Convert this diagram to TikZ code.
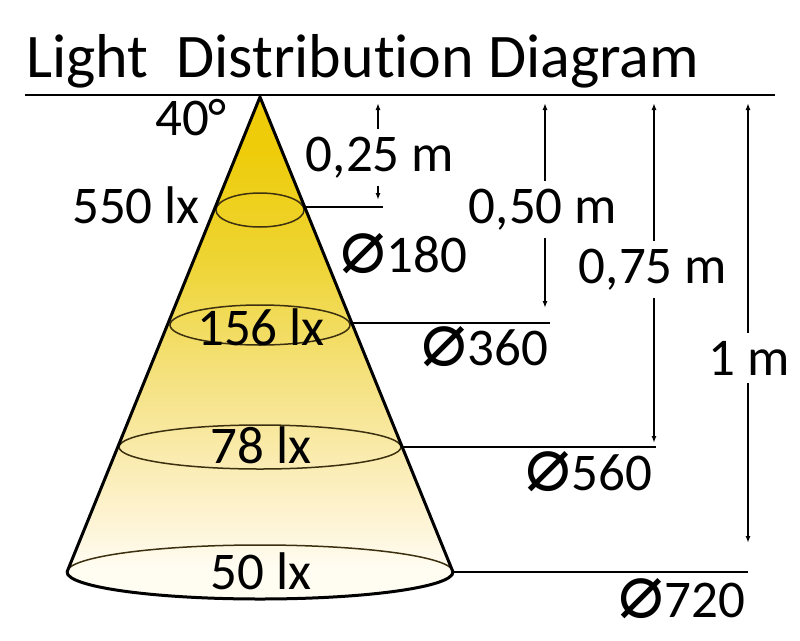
\documentclass[tikz,border=0pt]{standalone}
\usepackage{fontspec}
\setmainfont[Ligatures=CommonOff]{Carlito}
\newfontfamily\symfont{DejaVu Sans}
\usepackage{tikz}
\usetikzlibrary{arrows.meta}
\tikzset{>={Latex[length=7pt,width=5pt]}}
\usepackage{xcolor}
\definecolor{conetop}{RGB}{238,204,10}
\definecolor{conehi}{RGB}{238,212,50}
\definecolor{conemid}{RGB}{246,228,140}
\definecolor{conelo}{RGB}{253,242,205}
\definecolor{conebot}{RGB}{255,252,242}
\definecolor{ringcol}{RGB}{60,48,16}
\pgfdeclareverticalshading{conefade}{100bp}{color(0bp)=(conebot); color(28bp)=(conebot); color(34bp)=(conelo); color(45bp)=(conemid); color(59bp)=(conehi); color(70bp)=(conetop); color(100bp)=(conetop)}
\tikzstyle{lbl}=[font=\fontsize{53}{58}\selectfont,inner sep=0pt,anchor=base]
\tikzstyle{dimlbl}=[lbl,fill=white,inner xsep=2pt,inner ysep=8pt]
\tikzstyle{ring}=[draw=ringcol,line width=1.5pt]
\tikzstyle{leader}=[line width=1.5pt]
\tikzstyle{dimline}=[<->,line width=1.5pt]
\newcommand{\dia}{{\symfont\fontsize{76}{80}\selectfont ⌀}}

\begin{document}
\begin{tikzpicture}[x=1pt,y=-1pt]
    \useasboundingbox (0,0) rectangle (800,640);

    \node[anchor=base west,inner sep=0pt,font=\fontsize{62}{66}\selectfont] (title) at (26,77) {Light\ \ Distribution Diagram};
    \draw[line width=2pt] (25,95) coordinate (hl) -- (775,95) coordinate (hr);

    \coordinate (apex) at (260,97);
    \coordinate (bl) at (67,572);
    \coordinate (br) at (453,572);

    % cone
    \shade[shading=conefade] (apex) -- (bl) arc[start angle=180,end angle=0,x radius=193,y radius=27] -- cycle;
    \draw[ring] (260,210) ellipse[x radius=44,y radius=17];
    \draw[ring] (260,325) ellipse[x radius=90,y radius=20];
    \draw[ring] (260,447) ellipse[x radius=141,y radius=22];
    \draw[ring] (bl) arc[start angle=180,end angle=360,x radius=193,y radius=27];
    \draw[line width=3pt] (bl) arc[start angle=180,end angle=0,x radius=193,y radius=27];
    \draw[line width=3pt,line join=round] (bl) -- (apex) -- (br);

    % leaders
    \coordinate (r1) at (304,207);
    \coordinate (r2) at (350,323);
    \coordinate (r3) at (401,447);
    \coordinate (l1) at (383,207);
    \coordinate (l2) at (550,323);
    \coordinate (l3) at (656,447);
    \coordinate (l4) at (748,572);
    \draw[leader] (r1) -- (l1);
    \draw[leader] (r2) -- (l2);
    \draw[leader] (r3) -- (l3);
    \draw[leader] (br) -- (l4);

    % dimension arrows
    \coordinate (t1) at (378,103);
    \coordinate (b1) at (378,200);
    \coordinate (t2) at (545,103);
    \coordinate (b2) at (545,308);
    \coordinate (t3) at (654,103);
    \coordinate (b3) at (654,443);
    \coordinate (t4) at (748,103);
    \coordinate (b4) at (748,543);
    \draw[dimline] (t1) -- (b1);
    \draw[dimline] (t2) -- (b2);
    \draw[dimline] (t3) -- (b3);
    \draw[dimline] (t4) -- (b4);

    \node[dimlbl] (h1) at (380,171) {0,25 m};
    \node[dimlbl] (h2) at (543,223) {0,50 m};
    \node[dimlbl] (h3) at (653,283) {0,75 m};
    \node[dimlbl] (h4) at (749,375) {1 m};

    % lux
    \node[lbl] (deg) at (191,135) {40°};
    \node[lbl] (lx1) at (136,223) {550 lx};
    \node[lbl] (lx2) at (261,345) {156 lx};
    \node[lbl] (lx3) at (261,463) {78 lx};
    \node[lbl] (lx4) at (261,589) {50 lx};

    % diameters
    \node[lbl] (d1) at (404,272) {\dia180};
    \node[lbl] (d2) at (485,365) {\dia360};
    \node[lbl] (d3) at (589,490) {\dia560};
    \node[lbl] (d4) at (682,617) {\dia720};
\end{tikzpicture}
\end{document}
